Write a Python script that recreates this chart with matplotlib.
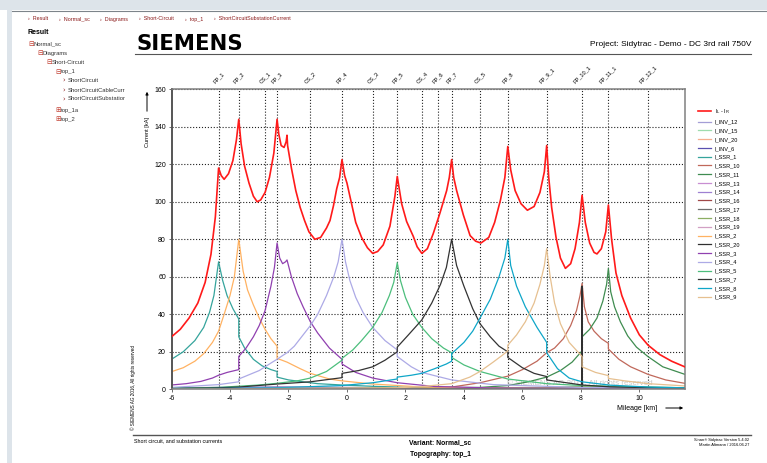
import matplotlib
matplotlib.use("Agg")
import matplotlib.pyplot as plt
from matplotlib.patches import Rectangle
from matplotlib.lines import Line2D

plt.rcParams['font.family'] = ['Liberation Sans', 'DejaVu Sans']
plt.rcParams['axes.unicode_minus'] = False

# Stations along the line (dotted verticals)
station_names = ["FP_1", "FP_2", "CS_1", "FP_3", "CS_2", "FP_4", "CS_3", "FP_5", "CS_4",
                 "FP_6", "FP_7", "CS_5", "FP_8", "FP_9_1", "FP_10_1", "FP_11_1", "FP_12_1"]
station_km = [-4.39, -3.70, -2.81, -2.39, -1.25, -0.17, 0.88, 1.72, 2.56,
              3.10, 3.58, 4.55, 5.50, 6.83, 8.04, 8.94, 10.29]

# Total short circuit current I_L - I_R
red_km = [-6.0, -5.7, -5.4, -5.1, -4.85, -4.65, -4.5, -4.39, -4.3, -4.2, -4.05, -3.9, -3.78, -3.7,
          -3.62, -3.5, -3.35, -3.2, -3.07, -2.95, -2.8, -2.65, -2.5, -2.39, -2.33, -2.25, -2.15,
          -2.08, -2.05, -2.03, -1.9, -1.75, -1.6, -1.45, -1.3, -1.1, -0.9, -0.7, -0.58, -0.46,
          -0.35, -0.25, -0.17, -0.08, 0.0, 0.1, 0.3, 0.5, 0.7, 0.88, 1.05, 1.24, 1.47, 1.64,
          1.72, 1.87, 2.04, 2.27, 2.4, 2.56, 2.75, 2.95, 3.18, 3.41, 3.5, 3.58, 3.65, 3.75,
          3.98, 4.21, 4.4, 4.58, 4.85, 5.05, 5.25, 5.4, 5.5, 5.6, 5.75, 5.95, 6.17, 6.4, 6.6,
          6.75, 6.83, 6.9, 7.0, 7.15, 7.3, 7.47, 7.65, 7.8, 7.95, 8.04, 8.15, 8.3, 8.45, 8.55,
          8.7, 8.85, 8.94, 9.05, 9.2, 9.4, 9.7, 10.0, 10.3, 10.7, 11.1, 11.55]
red_ka = [28, 32, 38, 46, 57, 72, 92, 118, 114, 112, 115, 122, 133, 144,
          131, 119, 110, 103, 100, 101, 105, 113, 126, 144, 136, 130, 129,
          132, 135.5, 130, 118, 106, 97, 90, 84, 80, 81, 86, 90, 98,
          107, 113, 122.5, 114, 110, 103, 89, 81, 75.5, 72.5, 73.5, 77, 87, 103,
          113.5, 99, 89.5, 81.5, 76, 72.5, 75, 83, 94, 106, 113, 122.5, 113, 106,
          93, 82, 79, 78, 81, 89, 101, 113, 129.5, 117, 106, 99, 95.5, 97.5, 105,
          116, 130, 113, 97, 81, 70, 64.5, 67, 75, 89, 103.5, 89, 78, 73, 72.2,
          75, 84, 98.3, 80, 62, 50, 38, 29, 23.5, 18.5, 15, 12]

ssr1_km = [-6, -5.6, -5.2, -4.9, -4.7, -4.55, -4.39, -4.25, -4.1, -3.9, -3.7, -3.7, -3.5, -3.2,
           -2.9, -2.6, -2.39, -2.39, -2.0, -1.5, -1.0, -0.17, 0.88, 2.0, 4.0, 7.0, 11.55]
ssr1_ka = [16, 20, 26, 33, 41, 50, 68, 58, 50, 43, 37.5, 28, 22, 16,
           12.5, 10.5, 9.5, 6.5, 5, 4, 3, 2.3, 1.6, 1.1, 0.6, 0.3, 0.1]

ssr2_km = [-6, -5.6, -5.2, -4.9, -4.6, -4.39, -4.2, -4.0, -3.85, -3.7, -3.55, -3.4, -3.2, -3.0,
           -2.8, -2.6, -2.39, -2.39, -2.05, -1.6, -1.25, -0.6, -0.17, 0.88, 2.5, 5, 11.55]
ssr2_ka = [9.4, 11.5, 15, 19, 25, 31, 40, 50, 60, 80, 63, 53, 45, 38,
           32, 27, 23, 16.5, 14.5, 11, 8.5, 5.5, 4.5, 2.8, 1.3, 0.6, 0.2]

ssr3_km = [-6, -5.5, -5, -4.6, -4.39, -4.1, -3.7, -3.7, -3.45, -3.2, -3.0, -2.8, -2.6, -2.48,
           -2.39, -2.3, -2.2, -2.1, -2.05, -1.9, -1.7, -1.5, -1.25, -1.0, -0.6, -0.17, -0.17,
           0.3, 0.88, 1.72, 3, 5, 11.55]
ssr3_ka = [2.3, 3, 4.2, 6, 7.5, 9, 10.5, 17.5, 22, 28, 34, 42, 55, 65,
           78, 70, 67, 68, 69, 60, 51, 44, 36, 30, 22, 16, 13.5,
           9, 6, 3.5, 1.5, 0.7, 0.3]

ssr4_km = [-6, -4.39, -3.7, -3.7, -3.0, -2.6, -2.39, -2.2, -2.05, -1.8, -1.5, -1.25, -1.0, -0.7,
           -0.45, -0.3, -0.17, -0.05, 0.1, 0.3, 0.55, 0.88, 1.3, 1.72, 1.72, 2.2, 2.56, 3.58,
           5, 8, 11.55]
ssr4_ka = [1, 2.5, 4, 5.5, 10, 14, 16, 18, 19.5, 23, 29, 34, 40, 50,
           60, 68, 80, 68, 58, 49, 41, 33, 26, 21, 17.5, 12, 9, 5,
           2.5, 1, 0.5]

ssr5_km = [-6, -4.39, -3, -2.39, -1.7, -1.25, -0.7, -0.17, -0.17, 0.2, 0.5, 0.88, 1.2, 1.45,
           1.6, 1.72, 1.83, 2.0, 2.25, 2.56, 2.9, 3.3, 3.58, 3.58, 4.0, 4.55, 5.5, 6.83, 8.04,
           11.55]
ssr5_ka = [0.5, 1, 2.3, 3.2, 4.5, 6, 9.5, 15.5, 16.5, 21, 26, 33, 41, 50,
           57, 67.5, 58, 49, 40, 33, 27, 22, 19.5, 17, 13, 9.5, 5.5, 3, 2,
           0.8]

ssr7_km = [-6, -4.39, -3.7, -2.39, -1.25, -0.17, -0.17, 0.4, 0.88, 1.3, 1.72, 1.72, 2.1, 2.56,
           2.9, 3.2, 3.4, 3.58, 3.75, 4.0, 4.3, 4.55, 4.9, 5.2, 5.5, 5.5, 6.0, 6.4, 6.83, 6.83,
           8.04, 9, 11.55]
ssr7_ka = [0.3, 0.8, 1.2, 2.8, 4, 6.2, 8.5, 10, 12, 15.5, 20, 22.5, 29, 37,
           46, 56, 65, 80, 66, 55, 43, 35, 28, 23, 20, 17, 11.5, 8.5, 6.8, 5,
           2.3, 1.3, 0.5]

ssr8_km = [-6, -2.39, -0.17, 0.88, 1.72, 1.72, 2.2, 2.56, 3.0, 3.4, 3.58, 3.58, 4.0, 4.3, 4.55,
           4.9, 5.2, 5.4, 5.5, 5.6, 5.8, 6.1, 6.5, 6.83, 6.83, 7.2, 7.6, 8.04, 9, 10.3, 11.55]
ssr8_ka = [0.2, 0.8, 2, 3.5, 5.5, 6.5, 7.5, 8.5, 11, 13.5, 15, 19, 25, 31, 38,
           48, 60, 70, 80, 66, 55, 44, 33, 25, 19.5, 11, 6, 4, 2.2, 1.2, 0.8]

ssr9_km = [-6, 1.72, 2.56, 3.58, 4.2, 4.55, 5.0, 5.3, 5.5, 5.5, 5.8, 6.1, 6.4, 6.6, 6.75, 6.83,
           6.95, 7.1, 7.3, 7.6, 8.04, 8.04, 8.5, 8.94, 8.94, 9.5, 10.3, 11.55]
ssr9_ka = [0.1, 0.8, 1.5, 3, 6.5, 9.5, 14.5, 18, 20.5, 23.5, 29, 36, 46, 56, 66, 75,
           60, 46, 35, 25, 17.5, 12, 9, 7.3, 5.8, 4.5, 3, 1.8]

ssr10_km = [-6, 2.56, 3.58, 4.55, 5.5, 6.0, 6.5, 6.83, 7.1, 7.4, 7.65, 7.85, 7.97, 8.04, 8.12,
            8.25, 8.45, 8.7, 8.94, 8.94, 9.3, 9.7, 10.29, 10.9, 11.55]
ssr10_ka = [0.1, 0.5, 1.2, 3.5, 7, 10.5, 15, 19.5, 22, 27, 34, 42, 50, 56.5, 44,
            36, 31, 27, 24.5, 21.5, 16, 12, 8, 5, 3.2]

ssr11_km = [-6, 4.55, 5.5, 6.2, 6.83, 7.3, 7.7, 8.04, 8.04, 8.3, 8.55, 8.75, 8.88, 8.94, 9.02,
            9.15, 9.35, 9.6, 9.9, 10.29, 10.8, 11.55]
ssr11_ka = [0.1, 1, 2, 4, 6.5, 10, 14.5, 20.5, 28, 32, 38, 47, 56, 64.5, 52,
            44, 36, 28.5, 22.5, 17.5, 12, 8]

ssr20_km = [-6, 7.0, 8.03, 8.04, 8.05, 9.0, 11.55]
ssr20_ka = [0.0, 0.3, 0.5, 55, 0.5, 0.3, 0.1]

# small contributions close to zero
inv6_km = [-6, -2.39, 2.0, 11.55]
inv6_ka = [0.8, 1.2, 0.8, 0.3]
inv12_km = [-6, 8.0, 10.29, 11.55]
inv12_ka = [0.2, 0.5, 1.0, 0.8]
inv15_km = [-6, 3.1, 11.55]
inv15_ka = [0.1, 0.6, 0.2]
inv20_km = [-6, 5.5, 11.55]
inv20_ka = [0.1, 0.4, 0.2]
ssr13_km = [-6, -2.39, 1.0, 11.55]
ssr13_ka = [0.3, 1.0, 0.5, 0.1]
ssr14_km = [-6, -1.25, 3.0, 11.55]
ssr14_ka = [0.2, 0.9, 0.4, 0.1]
ssr16_km = [-6, 6.83, 8.04, 11.55]
ssr16_ka = [0.1, 0.6, 1.2, 0.5]
ssr17_km = [-6, 3.58, 11.55]
ssr17_ka = [0.1, 0.7, 0.2]
ssr18_km = [-6, 6.83, 8.0, 11.55]
ssr18_ka = [0.1, 1.0, 1.5, 0.6]
ssr19_km = [-6, 4.55, 11.55]
ssr19_ka = [0.1, 0.5, 0.2]

series = [
    ("I$_\\mathregular{L}$ - I$_\\mathregular{R}$", red_km, red_ka, "#ff1a1a"),
    ("I_INV_12", inv12_km, inv12_ka, "#a49ed6"),
    ("I_INV_15", inv15_km, inv15_ka, "#9edcae"),
    ("I_INV_20", inv20_km, inv20_ka, "#f6ae8e"),
    ("I_INV_6", inv6_km, inv6_ka, "#5a50b0"),
    ("I_SSR_1", ssr1_km, ssr1_ka, "#35a49c"),
    ("I_SSR_10", ssr10_km, ssr10_ka, "#c0685a"),
    ("I_SSR_11", ssr11_km, ssr11_ka, "#3f8c50"),
    ("I_SSR_13", ssr13_km, ssr13_ka, "#c88ed2"),
    ("I_SSR_14", ssr14_km, ssr14_ka, "#9e80d2"),
    ("I_SSR_16", ssr16_km, ssr16_ka, "#a04848"),
    ("I_SSR_17", ssr17_km, ssr17_ka, "#6e6e6e"),
    ("I_SSR_18", ssr18_km, ssr18_ka, "#8cae62"),
    ("I_SSR_19", ssr19_km, ssr19_ka, "#d2a0c4"),
    ("I_SSR_2", ssr2_km, ssr2_ka, "#ffb262"),
    ("I_SSR_20", ssr20_km, ssr20_ka, "#303030"),
    ("I_SSR_3", ssr3_km, ssr3_ka, "#9040b0"),
    ("I_SSR_4", ssr4_km, ssr4_ka, "#adaae6"),
    ("I_SSR_5", ssr5_km, ssr5_ka, "#4cbe7c"),
    ("I_SSR_7", ssr7_km, ssr7_ka, "#333333"),
    ("I_SSR_8", ssr8_km, ssr8_ka, "#0ea6c8"),
    ("I_SSR_9", ssr9_km, ssr9_ka, "#e6c090"),
]

W, H = 767, 463


def fx(x):
    return x / W


def fy(y):
    return 1 - y / H


fig = plt.figure(figsize=(W / 100, H / 100), dpi=100)
fig.patch.set_facecolor("white")

# page chrome
fig.add_artist(Rectangle((0, fy(10)), 1, 10 / H, transform=fig.transFigure,
                         color="#dde4ea", lw=0))
fig.add_artist(Rectangle((fx(7), 0), 5 / W, fy(10), transform=fig.transFigure,
                         color="#dde4ea", lw=0))
fig.add_artist(Line2D([fx(12), 1], [fy(10.8), fy(10.8)], transform=fig.transFigure,
                      color="#7d848a", lw=0.8))

crumbs = [(28, "Result"), (59, "Normal_sc"), (100, "Diagrams"), (139, "Short-Circuit"),
          (185, "top_1"), (214, "ShortCircuitSubstationCurrent")]
for x, t in crumbs:
    fig.text(fx(x), fy(19), "\u203a  " + t, fontsize=3.9, color="#8b1a1a",
             ha="left", va="center")

fig.text(fx(28), fy(33), "Result", fontsize=5, fontweight="bold", ha="left", va="center")
tree = [(28, 44.3, "\u229f", "Normal_sc"), (37, 53.3, "\u229f", "Diagrams"),
        (46, 62.3, "\u229f", "Short-Circuit"), (55, 71.7, "\u229f", "top_1"),
        (62, 80.7, "\u203a", "ShortCircuit"), (62, 90, "\u203a", "ShortCircuitCableCurr"),
        (62, 99, "\u203a", "ShortCircuitSubstatior"), (55, 110, "\u229e", "top_1a"),
        (55, 119, "\u229e", "top_2")]
for x, y, sym, t in tree:
    col = "#8b1a1a" if sym == "\u203a" else "#c0392b"
    fig.text(fx(x), fy(y), sym, fontsize=4.8, color=col, ha="left", va="center",
             family="DejaVu Sans")
    fig.text(fx(x + 5.5), fy(y), t, fontsize=4.2, color="#333333", ha="left", va="center")

fig.text(fx(136), fy(50.5), "SIEMENS", fontsize=15.3, fontweight="bold", family="DejaVu Sans",
         ha="left", va="baseline")
fig.add_artist(Line2D([fx(135), fx(751)], [fy(53.5), fy(53.5)], transform=fig.transFigure,
                      color="#555555", lw=0.8))
fig.text(fx(751), fy(44.5), "Project: Sidytrac - Demo - DC 3rd rail 750V", fontsize=6,
         ha="right", va="center")

# bottom
fig.add_artist(Line2D([fx(133), fx(751)], [fy(435), fy(435)], transform=fig.transFigure,
                      color="#555555", lw=1.0))
fig.text(fx(134), fy(441), "Short circuit, and substation currents", fontsize=3.9,
         ha="left", va="center")
fig.text(fx(440), fy(443), "Variant: Normal_sc", fontsize=4.9, fontweight="bold",
         ha="center", va="center")
fig.text(fx(440), fy(455), "Topography: top_1", fontsize=4.9, fontweight="bold",
         ha="center", va="center")
fig.text(fx(749), fy(440.5), "Sinan\u00ae Sidytrac Version 5.4.02", fontsize=2.9,
         ha="right", va="center")
fig.text(fx(749), fy(445), "Martin Altmann / 2016.06.27", fontsize=2.9,
         ha="right", va="center")
fig.text(fx(133.5), fy(388), "\u00a9 SIEMENS AG 2016, All rights reserved", fontsize=3.3,
         rotation=90, ha="center", va="center")

# plot
ax = fig.add_axes([fx(171.5), fy(389.3), 513.5 / W, 300 / H])
for sp in ax.spines.values():
    sp.set_color("#808080")
    sp.set_linewidth(1.1)
ax.spines["left"].set_color("#555555")
ax.spines["left"].set_linewidth(1.4)

ax.set_xlim(-6, 11.56)
ax.set_ylim(0, 160)
ax.set_xticks(range(-6, 11, 2))
ax.set_yticks(range(0, 161, 20))
ax.tick_params(labelsize=5, length=2, width=0.6, color="#555555", pad=2)
ax.yaxis.grid(True, linestyle=":", color="#222222", lw=0.8)
ax.set_axisbelow(True)

for km in station_km:
    ax.axvline(km, color="#222222", linestyle=":", lw=0.8, zorder=1)
for name, km in zip(station_names, station_km):
    ax.text(km, 1.018, name, transform=ax.get_xaxis_transform(), rotation=45,
            fontsize=4.1, ha="center", va="bottom")

ax.text(fx(507), fy(383), "\u00a9 SIEMENS AG 2016, All rights reserved", transform=fig.transFigure,
        fontsize=5.8, color="#c8c8c8", ha="left", va="center", zorder=1.5)

for label, xs, ys, col in series:
    is_total = label.startswith("I$")
    ax.plot(xs, ys, color=col, lw=1.2 if is_total else 0.9, label=label,
            zorder=3 if is_total else 2)

ax.legend(loc="upper left", bbox_to_anchor=(fx(698), fy(107)), bbox_transform=fig.transFigure,
          fontsize=4.1, frameon=False, handlelength=2.35, handletextpad=0.6,
          labelspacing=0.66, borderpad=0, borderaxespad=0)

# axis labels with arrows
fig.text(fx(147), fy(132), "Current [kA]", fontsize=4.1, rotation=90, ha="center", va="center")
ax.annotate("", xy=(fx(147), fy(89)), xytext=(fx(147), fy(114)), xycoords="figure fraction",
            textcoords="figure fraction",
            arrowprops=dict(arrowstyle="-|>", lw=0.7, color="black", mutation_scale=4))
fig.text(fx(637), fy(408), "Mileage [km]", fontsize=5, ha="center", va="center")
ax.annotate("", xy=(fx(686), fy(408)), xytext=(fx(663), fy(408)), xycoords="figure fraction",
            textcoords="figure fraction",
            arrowprops=dict(arrowstyle="-|>", lw=0.7, color="black", mutation_scale=4))

plt.savefig("out.png", dpi=100)
